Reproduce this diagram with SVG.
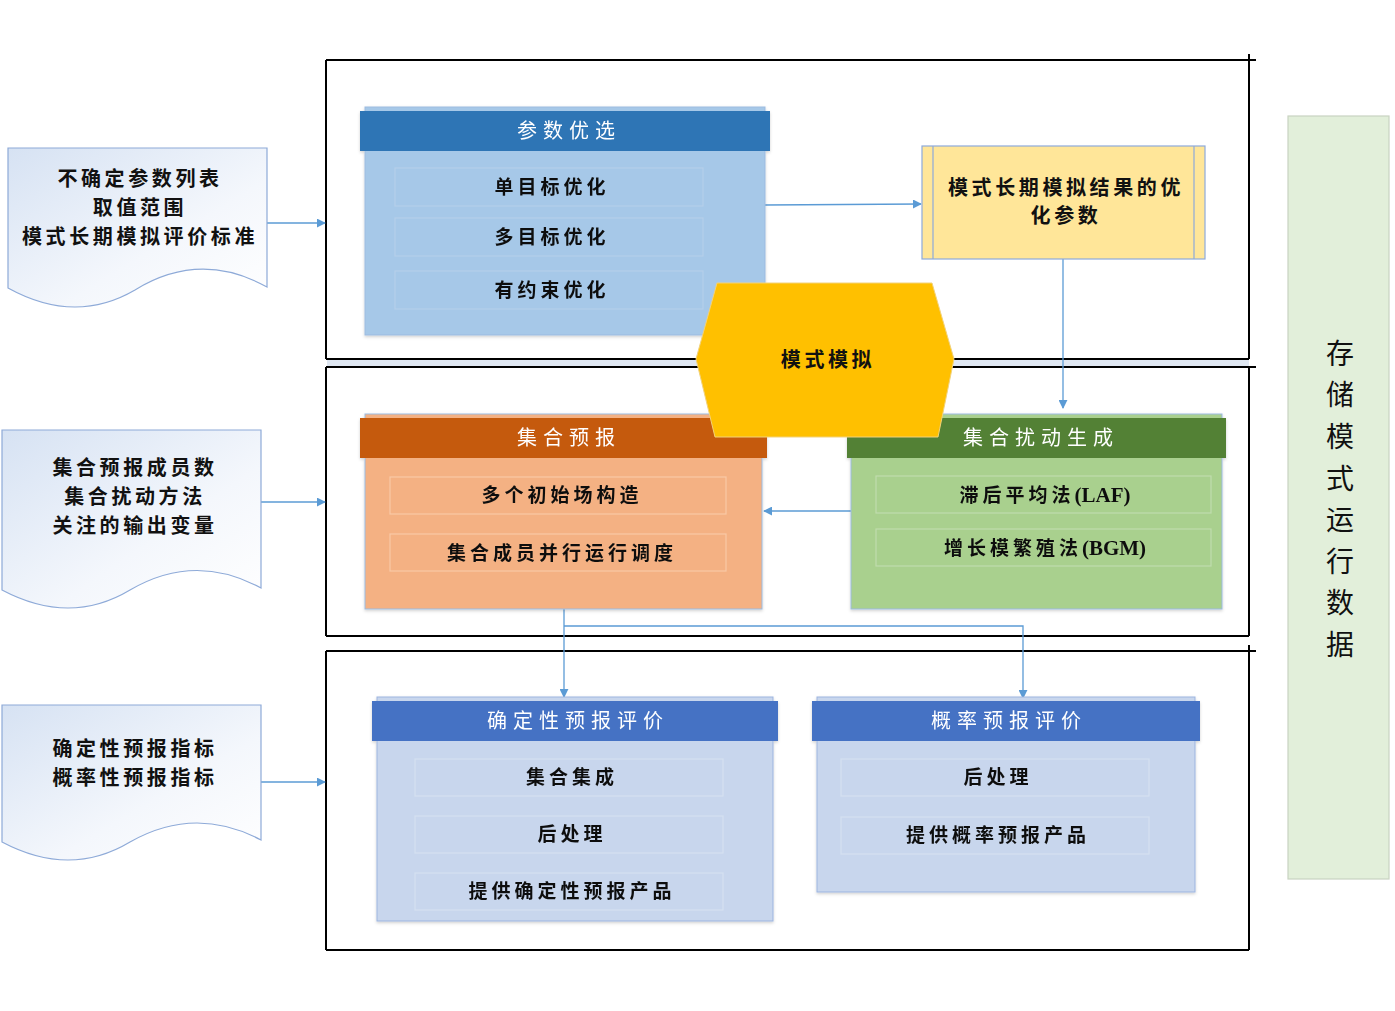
<svg xmlns="http://www.w3.org/2000/svg" width="1395" height="1011" viewBox="0 0 1395 1011">
<style>
.frame{fill:none;stroke:#000;stroke-width:2}
.conn{fill:none;stroke:#5b9bd5;stroke-width:1.3}
.doc{fill:url(#docg);stroke:#8eaad8;stroke-width:1.2}
.t{font-family:"Liberation Serif","Noto Sans CJK SC",serif;font-weight:bold;font-size:19px;fill:#111;text-anchor:middle;dominant-baseline:central;letter-spacing:4px}
.dt{font-size:20px;letter-spacing:3.6px}
.h{font-family:"Liberation Serif","Noto Sans CJK SC",serif;font-size:20px;fill:#fff;text-anchor:middle;dominant-baseline:central;letter-spacing:6px}
.v{font-family:"Liberation Serif","Noto Sans CJK SC",serif;font-size:28px;fill:#111;text-anchor:middle;dominant-baseline:central}
.sub{stroke-width:1.2;fill:none}
.lat{letter-spacing:0;font-size:21px}
</style>
<defs>
<linearGradient id="docg" x1="0" y1="0" x2="1" y2="1">
<stop offset="0" stop-color="#d6e2f3"/>
<stop offset="0.6" stop-color="#f4f7fc"/>
<stop offset="1" stop-color="#ffffff"/>
</linearGradient>
<marker id="arr" viewBox="0 0 10 10" refX="9" refY="5" markerWidth="9" markerHeight="9" markerUnits="userSpaceOnUse" orient="auto">
<path d="M0,0 L10,5 L0,10 Z" fill="#5b9bd5"/>
</marker>
<filter id="sh" x="-5%" y="-5%" width="110%" height="110%">
<feDropShadow dx="0" dy="1.5" stdDeviation="1.5" flood-color="#000" flood-opacity="0.18"/>
</filter>
</defs>
<rect width="1395" height="1011" fill="#fff"/>

<g id="frames">
<rect x="327" y="360" width="922" height="7" fill="#dfe7f2"/>
<path class="frame" d="M326,60 H1256 M1249,54 V359 M326,359 H1249 M326,60 V359"/>
<path class="frame" d="M326,367 H1256 M1249,367 V636 M326,636 H1249 M326,367 V636"/>
<path class="frame" d="M326,651 H1256 M1249,645 V950 M326,950 H1249 M326,651 V950"/>
</g>

<g id="connectors">
<path class="conn" d="M267,223 H325" marker-end="url(#arr)"/>
<path class="conn" d="M261,502 H325" marker-end="url(#arr)"/>
<path class="conn" d="M261,782 H325" marker-end="url(#arr)"/>
<path class="conn" d="M765,205 L921,204" marker-end="url(#arr)"/>
<path class="conn" d="M1063,259 V408" marker-end="url(#arr)"/>
<path class="conn" d="M851,511 H764" marker-end="url(#arr)"/>
<path class="conn" d="M564,609 V697" marker-end="url(#arr)"/>
<path class="conn" d="M564,626 H1023 V698" marker-end="url(#arr)"/>
</g>

<g id="doc1">
<path class="doc" d="M8,148 H267 V287 Q200,250 135,290 Q75,325 8,288 Z"/>
<text class="t dt" x="140" y="179">不确定参数列表</text>
<text class="t dt" x="140" y="208">取值范围</text>
<text class="t dt" x="140" y="237">模式长期模拟评价标准</text>
</g>
<g id="doc2">
<path class="doc" d="M2,430 H261 V588 Q195,552 130,590 Q70,626 2,590 Z"/>
<text class="t dt" x="135" y="468">集合预报成员数</text>
<text class="t dt" x="135" y="497">集合扰动方法</text>
<text class="t dt" x="135" y="526">关注的输出变量</text>
</g>
<g id="doc3">
<path class="doc" d="M2,705 H261 V840 Q195,805 130,842 Q70,878 2,842 Z"/>
<text class="t dt" x="135" y="749">确定性预报指标</text>
<text class="t dt" x="135" y="778">概率性预报指标</text>
</g>

<g id="param" filter="url(#sh)">
<rect x="365" y="107" width="400" height="228" fill="#a6c8e8" stroke="#9dbbe0"/>
<rect x="360" y="111" width="410" height="40" fill="#2e74b5"/>
<text class="h" x="569" y="131">参数优选</text>
<rect class="sub" x="395" y="168" width="308" height="38" stroke="#b5cfe9"/>
<rect class="sub" x="395" y="218" width="308" height="38" stroke="#b5cfe9"/>
<rect class="sub" x="395" y="271" width="308" height="38" stroke="#b5cfe9"/>
<text class="t" x="552" y="187">单目标优化</text>
<text class="t" x="552" y="237">多目标优化</text>
<text class="t" x="552" y="290">有约束优化</text>
</g>

<g id="optparams">
<rect x="922" y="146" width="283" height="113" fill="#ffe699" stroke="#8eaadb" stroke-width="1.2"/>
<path d="M933,146 V259 M1194,146 V259" stroke="#8eaadb" stroke-width="1.2"/>
<text class="t dt" x="1066" y="188">模式长期模拟结果的优</text>
<text class="t dt" x="1066" y="216">化参数</text>
</g>

<g id="ensfc" filter="url(#sh)">
<rect x="365" y="414" width="397" height="195" fill="#f4b183" stroke="#9dbbe0"/>
<rect x="360" y="418" width="407" height="40" fill="#c55a11"/>
<text class="h" x="569" y="438">集合预报</text>
<rect class="sub" x="390" y="477" width="336" height="37" stroke="#f8c9a6"/>
<rect class="sub" x="390" y="534" width="336" height="37" stroke="#f8c9a6"/>
<text class="t" x="562" y="495">多个初始场构造</text>
<text class="t" x="562" y="553">集合成员并行运行调度</text>
</g>

<g id="perturb" filter="url(#sh)">
<rect x="851" y="414" width="371" height="195" fill="#a9d08e" stroke="#9dbbe0"/>
<rect x="847" y="418" width="379" height="40" fill="#538135"/>
<text class="h" x="1041" y="438">集合扰动生成</text>
<rect class="sub" x="876" y="476" width="335" height="37" stroke="#c0dcad"/>
<rect class="sub" x="876" y="529" width="335" height="37" stroke="#c0dcad"/>
<text class="t" x="1045" y="495">滞后平均法<tspan class="lat">(LAF)</tspan></text>
<text class="t" x="1045" y="548">增长模繁殖法<tspan class="lat">(BGM)</tspan></text>
</g>

<g id="model">
<polygon points="696,359 717,283 932,283 954,359 938,437 715,437" fill="#ffc000" stroke="#f2d27a" stroke-width="1"/>
<text class="t dt" x="828" y="360">模式模拟</text>
</g>

<g id="detEval" filter="url(#sh)">
<rect x="377" y="697" width="396" height="224" fill="#c8d6ed" stroke="#9db5df"/>
<rect x="372" y="701" width="406" height="40" fill="#4472c4"/>
<text class="h" x="578" y="721">确定性预报评价</text>
<rect class="sub" x="415" y="759" width="308" height="37" stroke="#d5e0f1"/>
<rect class="sub" x="415" y="816" width="308" height="37" stroke="#d5e0f1"/>
<rect class="sub" x="415" y="873" width="308" height="37" stroke="#d5e0f1"/>
<text class="t" x="572" y="777">集合集成</text>
<text class="t" x="572" y="834">后处理</text>
<text class="t" x="572" y="891">提供确定性预报产品</text>
</g>

<g id="probEval" filter="url(#sh)">
<rect x="817" y="697" width="378" height="195" fill="#c8d6ed" stroke="#9db5df"/>
<rect x="812" y="701" width="388" height="40" fill="#4472c4"/>
<text class="h" x="1009" y="721">概率预报评价</text>
<rect class="sub" x="841" y="759" width="308" height="37" stroke="#d5e0f1"/>
<rect class="sub" x="841" y="817" width="308" height="37" stroke="#d5e0f1"/>
<text class="t" x="998" y="777">后处理</text>
<text class="t" x="998" y="835">提供概率预报产品</text>
</g>

<g id="storage">
<rect x="1288" y="116" width="101" height="763" fill="#e2efda" stroke="#c9d3c2" stroke-width="1.2"/>
<text class="v" x="1340" y="354">存</text>
<text class="v" x="1340" y="395">储</text>
<text class="v" x="1340" y="437">模</text>
<text class="v" x="1340" y="479">式</text>
<text class="v" x="1340" y="520">运</text>
<text class="v" x="1340" y="562">行</text>
<text class="v" x="1340" y="603">数</text>
<text class="v" x="1340" y="645">据</text>
</g>
</svg>
